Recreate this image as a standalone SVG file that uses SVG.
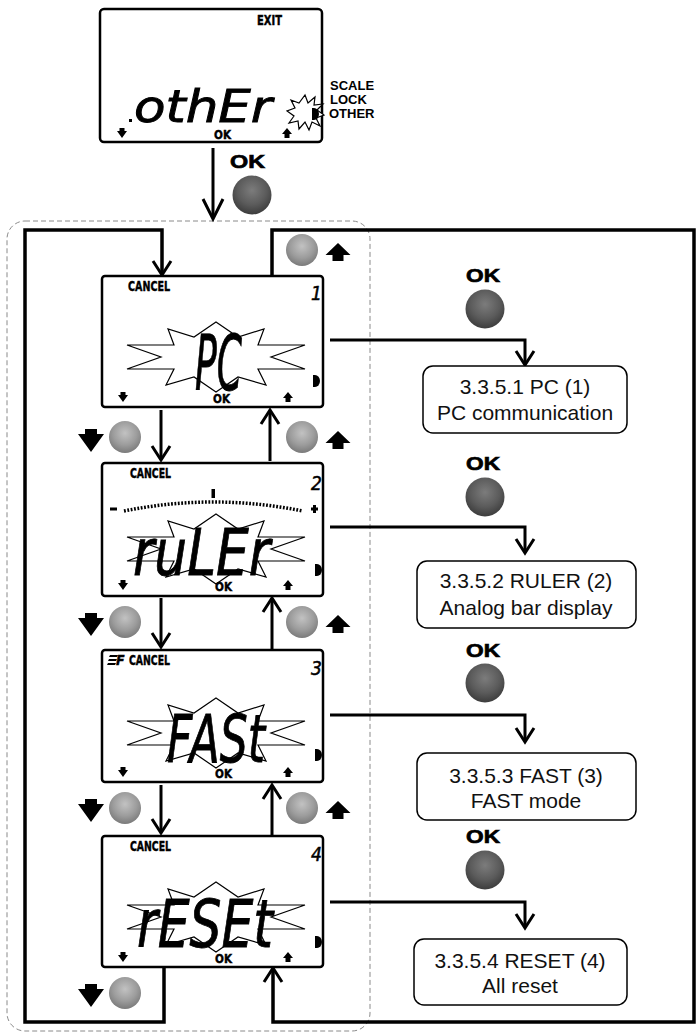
<svg xmlns="http://www.w3.org/2000/svg" width="699" height="1034" viewBox="0 0 699 1034">
<style>
.bg{fill:#fff}
.lcd{fill:#fff;stroke:#000;stroke-width:2.5}
.frame{fill:none;stroke:#000;stroke-width:3.5;stroke-linejoin:miter}
.conn{fill:none;stroke:#000;stroke-width:3}
.head{fill:none;stroke:#000;stroke-width:3;stroke-linejoin:miter}
.dash{fill:none;stroke:#8a8a8a;stroke-width:1;stroke-dasharray:5 3}
.rbox{fill:#fff;stroke:#000;stroke-width:1.5}
.rtxt{font-family:"Liberation Sans",Arial,sans-serif;font-size:21px;text-anchor:middle;fill:#111}
.ok{font-family:"Liberation Sans",Arial,sans-serif;font-weight:bold;font-size:19px;fill:#000;stroke:#000;stroke-width:0.7}
.lab{font-family:"DejaVu Sans Condensed","Liberation Sans",sans-serif;font-weight:bold;fill:#000;stroke:#000;stroke-width:0.4}
.side{font-family:"Liberation Sans",Arial,sans-serif;font-weight:bold;font-size:13px;fill:#000}
.seg{font-family:"DejaVu Sans Condensed","DejaVu Sans",sans-serif;font-style:italic;font-weight:normal;fill:#000;stroke:#000;stroke-width:0.8}
.num{font-family:"DejaVu Sans Condensed","DejaVu Sans",sans-serif;font-style:italic;font-size:19px;fill:#000;stroke:#000;stroke-width:0.5}
.star{fill:#fff;stroke:#000;stroke-width:1.2;stroke-linejoin:miter}
</style>
<defs>
<radialGradient id="gd" cx="0.5" cy="0.38" r="0.62">
<stop offset="0" stop-color="#7c7c7c"/>
<stop offset="0.6" stop-color="#5b5b5b"/>
<stop offset="1" stop-color="#3c3c3c"/>
</radialGradient>
<radialGradient id="gl" cx="0.5" cy="0.38" r="0.62">
<stop offset="0" stop-color="#c2c2c2"/>
<stop offset="0.6" stop-color="#9c9c9c"/>
<stop offset="1" stop-color="#7a7a7a"/>
</radialGradient>
<polygon id="burst" class="star" points="0,-35 22,-20 48,-28 42,-12 89,-12 55,0 89,12 42,12 50,28 22,20 0,35 -22,20 -50,28 -42,12 -89,12 -55,0 -89,-12 -42,-12 -48,-28 -22,-20"/>
<path id="bigDown" d="M-6,-11 H6 V-6 H13 L0,12 L-13,-6 H-6 Z" fill="#000"/>
<path id="bigUp" d="M0,-9 L12.5,3 H5.5 V9 H-5.5 V3 H-12.5 Z" fill="#000"/>
<path id="smDown" d="M-2.5,-5 H2.5 V-2 H5 L0,5 L-5,-2 H-2.5 Z" fill="#000"/>
<path id="smUp" d="M0,-5 L5,1 H2.5 V5 H-2.5 V1 H-5 Z" fill="#000"/>
<path id="dRight" d="M0,-6 H2 A5,6 0 0 1 2,6 H0 Z" fill="#000"/>
<circle id="ballD" r="19.5" fill="url(#gd)"/>
<circle id="ballL" r="16" fill="url(#gl)"/>
<path id="vDown" class="head" d="M-9,-14 L0,0 L9,-14"/>
<path id="vUp" class="head" d="M-9,14 L0,0 L9,14"/>
</defs>
<rect class="bg" x="0" y="0" width="699" height="1034"/>

<rect class="dash" x="7" y="221" width="363" height="810" rx="18"/>

<g id="connectors">
<line class="conn" x1="213" y1="148" x2="213" y2="218"/>
<path class="head" d="M203,199 L213,219 L223,199"/>
<path class="frame" d="M164,967 V1022 H25 V230 H162 V274"/>
<use href="#vDown" x="162" y="275"/>
<path class="frame" d="M272,276 V230 H694 V1022 H273 V969"/>
<use href="#vUp" x="273" y="968"/>
<line class="conn" x1="161" y1="410" x2="161" y2="459"/>
<use href="#vDown" x="161" y="460"/>
<line class="conn" x1="270" y1="461" x2="270" y2="411"/>
<use href="#vUp" x="270" y="410"/>
<line class="conn" x1="161" y1="598" x2="161" y2="646"/>
<use href="#vDown" x="161" y="647"/>
<line class="conn" x1="272" y1="649" x2="272" y2="599"/>
<use href="#vUp" x="272" y="598"/>
<line class="conn" x1="161" y1="785" x2="161" y2="832"/>
<use href="#vDown" x="161" y="833"/>
<line class="conn" x1="272" y1="835" x2="272" y2="786"/>
<use href="#vUp" x="272" y="785"/>
<path class="conn" d="M330,340 H525 V364"/>
<use href="#vDown" x="525" y="365"/>
<path class="conn" d="M330,527 H525 V552"/>
<use href="#vDown" x="525" y="553"/>
<path class="conn" d="M330,715 H525 V741"/>
<use href="#vDown" x="525" y="742"/>
<path class="conn" d="M330,902 H525 V927"/>
<use href="#vDown" x="525" y="928"/>
</g>

<g id="buttons">
<text class="ok" x="230" y="168" font-size="17" textLength="35" lengthAdjust="spacingAndGlyphs">OK</text>
<use href="#ballD" x="252" y="195"/>
<use href="#ballL" x="302" y="250"/>
<use href="#bigUp" x="338" y="252"/>
<use href="#bigDown" x="91" y="440"/>
<use href="#ballL" x="125" y="437"/>
<use href="#ballL" x="302" y="437"/>
<use href="#bigUp" x="338" y="440"/>
<use href="#bigDown" x="91" y="624"/>
<use href="#ballL" x="125" y="622"/>
<use href="#ballL" x="302" y="622"/>
<use href="#bigUp" x="338" y="624"/>
<use href="#bigDown" x="91" y="810"/>
<use href="#ballL" x="125" y="808"/>
<use href="#ballL" x="302" y="808"/>
<use href="#bigUp" x="338" y="810"/>
<use href="#bigDown" x="91" y="995"/>
<use href="#ballL" x="125" y="993"/>
<text class="ok" x="466" y="282" textLength="34" lengthAdjust="spacingAndGlyphs">OK</text>
<use href="#ballD" x="485" y="309"/>
<text class="ok" x="466" y="470" textLength="34" lengthAdjust="spacingAndGlyphs">OK</text>
<use href="#ballD" x="485" y="497"/>
<text class="ok" x="466" y="657" textLength="34" lengthAdjust="spacingAndGlyphs">OK</text>
<use href="#ballD" x="485" y="683"/>
<text class="ok" x="466" y="843" textLength="34" lengthAdjust="spacingAndGlyphs">OK</text>
<use href="#ballD" x="485" y="870"/>
</g>

<g id="lcd-other">
<rect class="lcd" x="100" y="9" width="222" height="133" rx="4"/>
<text class="lab" x="257" y="25" font-size="14" textLength="25" lengthAdjust="spacingAndGlyphs">EXIT</text>
<rect x="129" y="119" width="3" height="3" fill="#000"/>
<text class="seg" x="134" y="122" font-size="44" textLength="138" lengthAdjust="spacingAndGlyphs">othEr</text>
<polygon class="star" points="305,95 308,103 315,97 314,105 323,104 317,110 324,115 316,118 320,126 312,122 309,130 305,122 299,129 298,121 289,123 294,116 287,111 295,108 291,100 299,103"/>
<use href="#dRight" x="312" y="114"/>
<use href="#smDown" x="122" y="133"/>
<text class="lab" x="214" y="139" font-size="12" textLength="17" lengthAdjust="spacingAndGlyphs">OK</text>
<use href="#smUp" x="287" y="133"/>
<text class="side" x="330" y="90">SCALE</text>
<text class="side" x="330" y="104">LOCK</text>
<text class="side" x="329" y="118">OTHER</text>
</g>

<g id="lcd-pc">
<rect class="lcd" x="102" y="276" width="221" height="131" rx="3"/>
<text class="lab" x="128" y="291" font-size="14" textLength="42" lengthAdjust="spacingAndGlyphs">CANCEL</text>
<text class="num" x="311" y="300">1</text>
<use href="#burst" x="216" y="357"/>
<text class="seg" x="195" y="390" font-size="76" textLength="47" lengthAdjust="spacingAndGlyphs">PC</text>
<use href="#smDown" x="123" y="397"/>
<text class="lab" x="213" y="403" font-size="12" textLength="17" lengthAdjust="spacingAndGlyphs">OK</text>
<use href="#smUp" x="288" y="397"/>
<use href="#dRight" x="313" y="381"/>
</g>

<g id="lcd-ruler">
<rect class="lcd" x="102" y="463" width="221" height="133" rx="3"/>
<text class="lab" x="130" y="478" font-size="14" textLength="41" lengthAdjust="spacingAndGlyphs">CANCEL</text>
<text class="num" x="311" y="490">2</text>
<path d="M124,511 Q213,493 303,511" fill="none" stroke="#000" stroke-width="3.5" stroke-dasharray="1.8 1.6"/>
<rect x="211.5" y="489" width="3.5" height="9" fill="#000"/>
<rect x="110" y="507.5" width="7" height="3" fill="#000"/>
<rect x="311" y="507.5" width="7" height="3" fill="#000"/>
<rect x="313" y="505" width="3" height="8" fill="#000"/>
<use href="#burst" x="216" y="549"/>
<text class="seg" x="133" y="575" font-size="64" textLength="137" lengthAdjust="spacingAndGlyphs">ruLEr</text>
<use href="#smDown" x="123" y="585"/>
<text class="lab" x="215" y="591" font-size="12" textLength="17" lengthAdjust="spacingAndGlyphs">OK</text>
<use href="#smUp" x="288" y="585"/>
<use href="#dRight" x="315" y="570"/>
</g>

<g id="lcd-fast">
<rect class="lcd" x="102" y="650" width="221" height="132" rx="3"/>
<polygon points="110,655 118,655 117,657 109,657" fill="#000"/>
<polygon points="109,659 117,659 116,661 108,661" fill="#000"/>
<polygon points="108,663 116,663 115,665 107,665" fill="#000"/>
<text class="lab" x="116" y="665" font-size="14" font-style="italic">F</text>
<text class="lab" x="129" y="665" font-size="14" textLength="41" lengthAdjust="spacingAndGlyphs">CANCEL</text>
<text class="num" x="311" y="675">3</text>
<use href="#burst" x="216" y="733"/>
<text class="seg" x="167" y="762" font-size="66" textLength="98" lengthAdjust="spacingAndGlyphs">FASt</text>
<use href="#smDown" x="123" y="772"/>
<text class="lab" x="215" y="778" font-size="12" textLength="17" lengthAdjust="spacingAndGlyphs">OK</text>
<use href="#smUp" x="288" y="772"/>
<use href="#dRight" x="315" y="755"/>
</g>

<g id="lcd-reset">
<rect class="lcd" x="102" y="836" width="221" height="131" rx="3"/>
<text class="lab" x="130" y="851" font-size="14" textLength="41" lengthAdjust="spacingAndGlyphs">CANCEL</text>
<text class="num" x="311" y="861">4</text>
<use href="#burst" x="216" y="917"/>
<text class="seg" x="137" y="947" font-size="65" textLength="136" lengthAdjust="spacingAndGlyphs">rESEt</text>
<use href="#smDown" x="123" y="957"/>
<text class="lab" x="215" y="963" font-size="12" textLength="17" lengthAdjust="spacingAndGlyphs">OK</text>
<use href="#smUp" x="288" y="957"/>
<use href="#dRight" x="315" y="942"/>
</g>

<g id="box-pc">
<rect class="rbox" x="423" y="366" width="204" height="67" rx="10"/>
<text class="rtxt" x="525" y="394">3.3.5.1 PC (1)</text>
<text class="rtxt" x="525" y="420">PC communication</text>
</g>
<g id="box-ruler">
<rect class="rbox" x="417" y="561" width="219" height="67" rx="10"/>
<text class="rtxt" x="526" y="588">3.3.5.2 RULER (2)</text>
<text class="rtxt" x="526" y="615">Analog bar display</text>
</g>
<g id="box-fast">
<rect class="rbox" x="417" y="753" width="219" height="67" rx="10"/>
<text class="rtxt" x="526" y="783">3.3.5.3 FAST (3)</text>
<text class="rtxt" x="526" y="808">FAST mode</text>
</g>
<g id="box-reset">
<rect class="rbox" x="414" y="939" width="213" height="66" rx="10"/>
<text class="rtxt" x="520" y="968">3.3.5.4 RESET (4)</text>
<text class="rtxt" x="520" y="993">All reset</text>
</g>
</svg>
